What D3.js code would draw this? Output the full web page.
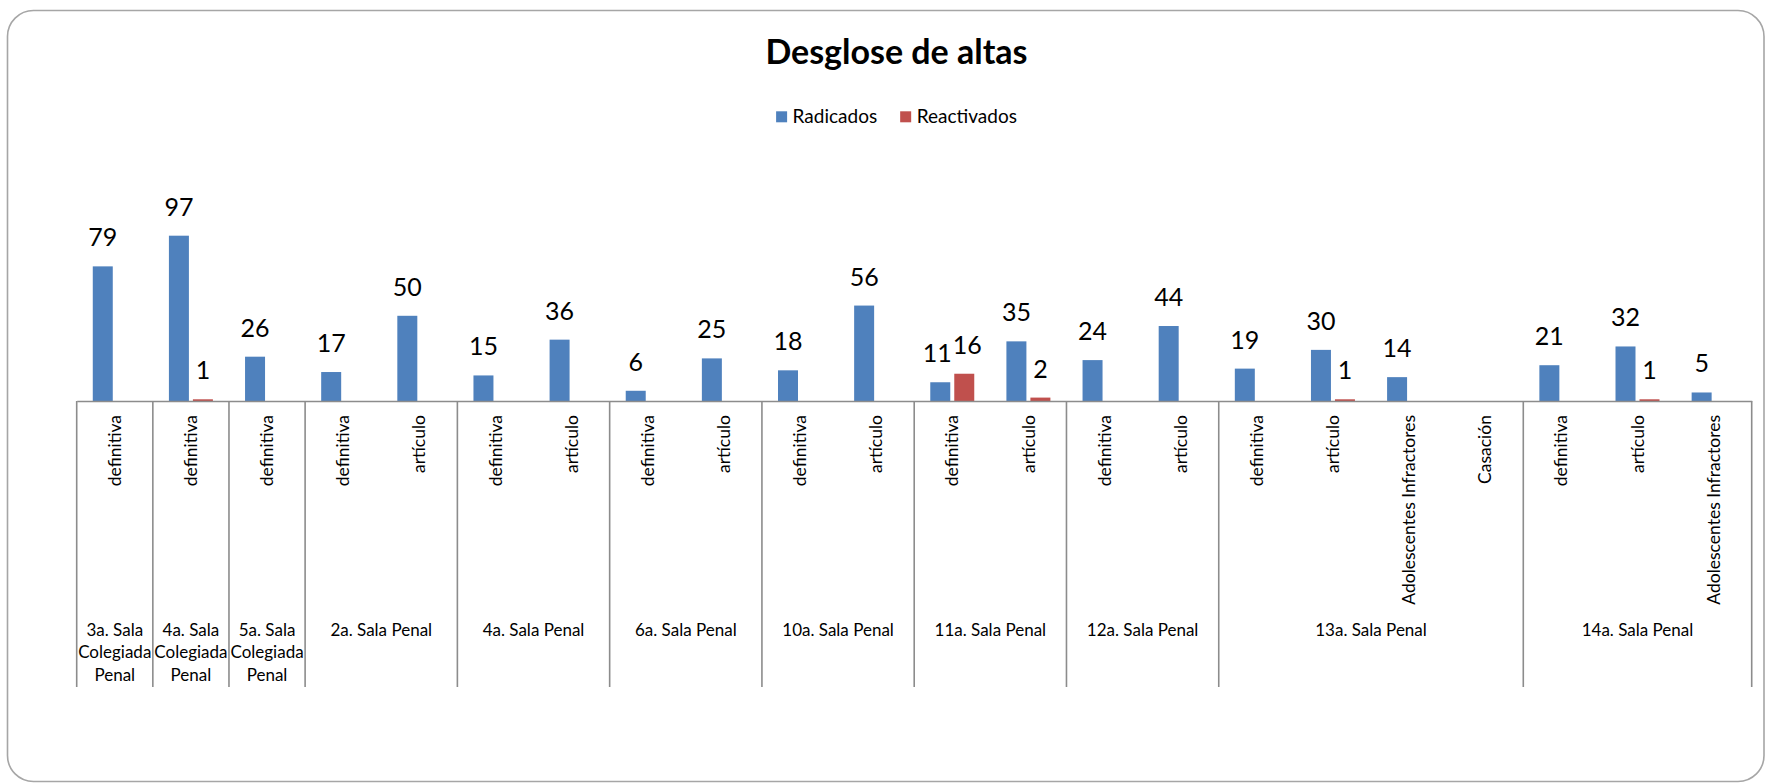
<!DOCTYPE html>
<html>
<head>
<meta charset="utf-8">
<script src="https://cdn.jsdelivr.net/npm/d3@7"></script>
<style>
  body { margin: 0; background: #fff; }
  svg { display: block; font-family: Lato, "Open Sans", sans-serif; }
</style>
</head>
<body>
<svg id="chart" width="1766" height="784"></svg>
<script>
// sub categories (first axis level), one per bar slot
var subLabels = [
  "definitiva",
  "definitiva",
  "definitiva",
  "definitiva", "artículo",
  "definitiva", "artículo",
  "definitiva", "artículo",
  "definitiva", "artículo",
  "definitiva", "artículo",
  "definitiva", "artículo",
  "definitiva", "artículo", "Adolescentes Infractores", "Casación",
  "definitiva", "artículo", "Adolescentes Infractores"
];
// groups (second axis level) and how many sub categories each holds
var groupNames = [
  "3a. Sala Colegiada Penal", "4a. Sala Colegiada Penal", "5a. Sala Colegiada Penal",
  "2a. Sala Penal", "4a. Sala Penal", "6a. Sala Penal", "10a. Sala Penal",
  "11a. Sala Penal", "12a. Sala Penal", "13a. Sala Penal", "14a. Sala Penal"
];
var groupSizes = [1, 1, 1, 2, 2, 2, 2, 2, 2, 4, 3];

var seriesNames = ["Radicados", "Reactivados"];
var radicados = [79, 97, 26, 17, 50, 15, 36, 6, 25, 18, 56, 11, 35, 24, 44, 19, 30, 14, null, 21, 32, 5];
var reactivados = [null, 1, null, null, null, null, null, null, null, null, null, 16, 2, null, null, null, 1, null, null, null, 1, null];
var colors = ["#4F81BD", "#C0504D"];

var dimensions = {
  width: 1766,
  height: 784,
  left: 76.7,
  right: 1751.7,
  axisY: 401,
  top: 196.5,
  groupBottom: 687
};

var svg = d3.select("#chart");

// chart frame
svg.append("rect")
  .attr("x", 7.5)
  .attr("y", 10.5)
  .attr("width", 1756.5)
  .attr("height", 771)
  .attr("rx", 26)
  .attr("fill", "#fff")
  .attr("stroke", "#a6a6a6")
  .attr("stroke-width", 1.6);

// title
svg.append("text")
  .attr("x", 896.5)
  .attr("y", 64)
  .attr("text-anchor", "middle")
  .style("font-size", "34px")
  .style("font-weight", "bold")
  .attr("fill", "#000")
  .text("Desglose de altas");

// legend, centered under the title
var legend = svg.append("g");
var lx = 0;
seriesNames.forEach(function (name, i) {
  var item = legend.append("g").attr("transform", "translate(" + lx + ",0)");
  item.append("rect")
    .attr("x", 0).attr("y", 111.3)
    .attr("width", 11).attr("height", 11)
    .attr("fill", colors[i]);
  var t = item.append("text")
    .attr("x", 16.5).attr("y", 123)
    .style("font-size", "19px")
    .attr("fill", "#000")
    .text(name);
  lx += 16.5 + t.node().getComputedTextLength() + 23;
});
var legendWidth = lx - 23;
legend.attr("transform", "translate(" + (896.5 - legendWidth / 2) + ",0)");

var idx = d3.range(subLabels.length);

var x0 = d3.scaleBand()
  .domain(idx)
  .range([dimensions.left, dimensions.right])
  .padding(0);

var x1 = d3.scaleBand()
  .domain(seriesNames)
  .range([0, x0.bandwidth()])
  .paddingInner(1 / 6)
  .paddingOuter(0.67);

var yScale = d3.scaleLinear()
  .domain([0, 120])
  .range([dimensions.axisY, dimensions.top]);

var rows = idx.map(function (i) {
  return [
    { i: i, s: seriesNames[0], v: radicados[i] },
    { i: i, s: seriesNames[1], v: reactivados[i] }
  ];
});

// bars
var slots = svg.append("g")
  .selectAll("g")
  .data(rows)
  .enter()
  .append("g")
  .attr("transform", function (d, i) { return "translate(" + x0(i) + ",0)"; });

slots.selectAll("rect")
  .data(function (d) { return d.filter(function (e) { return e.v != null; }); })
  .enter()
  .append("rect")
  .attr("x", function (d) { return x1(d.s); })
  .attr("width", x1.bandwidth())
  .attr("y", function (d) { return yScale(d.v); })
  .attr("height", function (d) { return dimensions.axisY - yScale(d.v); })
  .attr("fill", function (d) { return colors[seriesNames.indexOf(d.s)]; });

// data labels
slots.selectAll("text")
  .data(function (d) { return d.filter(function (e) { return e.v != null; }); })
  .enter()
  .append("text")
  .attr("x", function (d) { return x1(d.s) + x1.bandwidth() / 2; })
  .attr("y", function (d) { return yScale(d.v) - 20; })
  .attr("text-anchor", "middle")
  .style("font-size", "25px")
  .attr("fill", "#000")
  .text(function (d) { return d.v; });

// push apart the two labels of a slot when they collide (11 / 16)
slots.each(function () {
  var labels = d3.select(this).selectAll("text").nodes();
  if (labels.length < 2) return;
  var a = labels[0].getBBox();
  var b = labels[1].getBBox();
  var vert = a.y < b.y + b.height && b.y < a.y + a.height;
  var over = a.x + a.width - b.x;
  if (vert && over > 0) {
    var shift = over / 2 + 0.5;
    d3.select(labels[0]).attr("x", +d3.select(labels[0]).attr("x") - shift);
    d3.select(labels[1]).attr("x", +d3.select(labels[1]).attr("x") + shift);
  }
});

// category axis (first level)
var xAxis = d3.axisBottom(x0)
  .tickSize(0)
  .tickSizeOuter(0)
  .tickFormat(function (i) { return subLabels[i]; });

var axisG = svg.append("g")
  .attr("transform", "translate(0," + dimensions.axisY + ")")
  .call(xAxis);

axisG.select(".domain")
  .attr("stroke", "#8c8c8c")
  .attr("stroke-width", 1.6);

axisG.selectAll("text")
  .attr("transform", "rotate(-90)")
  .attr("x", -14)
  .attr("y", 0)
  .attr("dy", "0.35em")
  .attr("text-anchor", "end")
  .style("font-family", "Lato, sans-serif")
  .style("font-size", "17.5px")
  .attr("fill", "#000");

// group separators and labels (second level)
var starts = [];
var acc = 0;
groupSizes.forEach(function (n) { starts.push(acc); acc += n; });

var bounds = starts.map(function (s) { return x0(s); }).concat([dimensions.right]);

svg.append("g")
  .selectAll("line")
  .data(bounds)
  .enter()
  .append("line")
  .attr("x1", function (d) { return d; })
  .attr("x2", function (d) { return d; })
  .attr("y1", dimensions.axisY)
  .attr("y2", dimensions.groupBottom)
  .attr("stroke", "#8c8c8c")
  .attr("stroke-width", 1.6);

function wrap(textSel, maxWidth) {
  textSel.each(function () {
    var text = d3.select(this);
    var words = text.text().split(/\s+/);
    var x = text.attr("x");
    text.text(null);
    var line = [];
    var tspan = text.append("tspan").attr("x", x).attr("dy", 0);
    words.forEach(function (w) {
      line.push(w);
      tspan.text(line.join(" "));
      if (tspan.node().getComputedTextLength() > maxWidth && line.length > 1) {
        line.pop();
        tspan.text(line.join(" "));
        line = [w];
        tspan = text.append("tspan").attr("x", x).attr("dy", 22.5).text(w);
      }
    });
  });
}

var groupLabels = svg.append("g")
  .selectAll("text")
  .data(groupNames)
  .enter()
  .append("text")
  .attr("x", function (d, g) { return (bounds[g] + bounds[g + 1]) / 2; })
  .attr("y", 635.5)
  .attr("text-anchor", "middle")
  .style("font-size", "17px")
  .attr("fill", "#000")
  .text(function (d) { return d; });

groupLabels.each(function (d, g) {
  wrap(d3.select(this), bounds[g + 1] - bounds[g] - 1);
});
</script>
</body>
</html>
